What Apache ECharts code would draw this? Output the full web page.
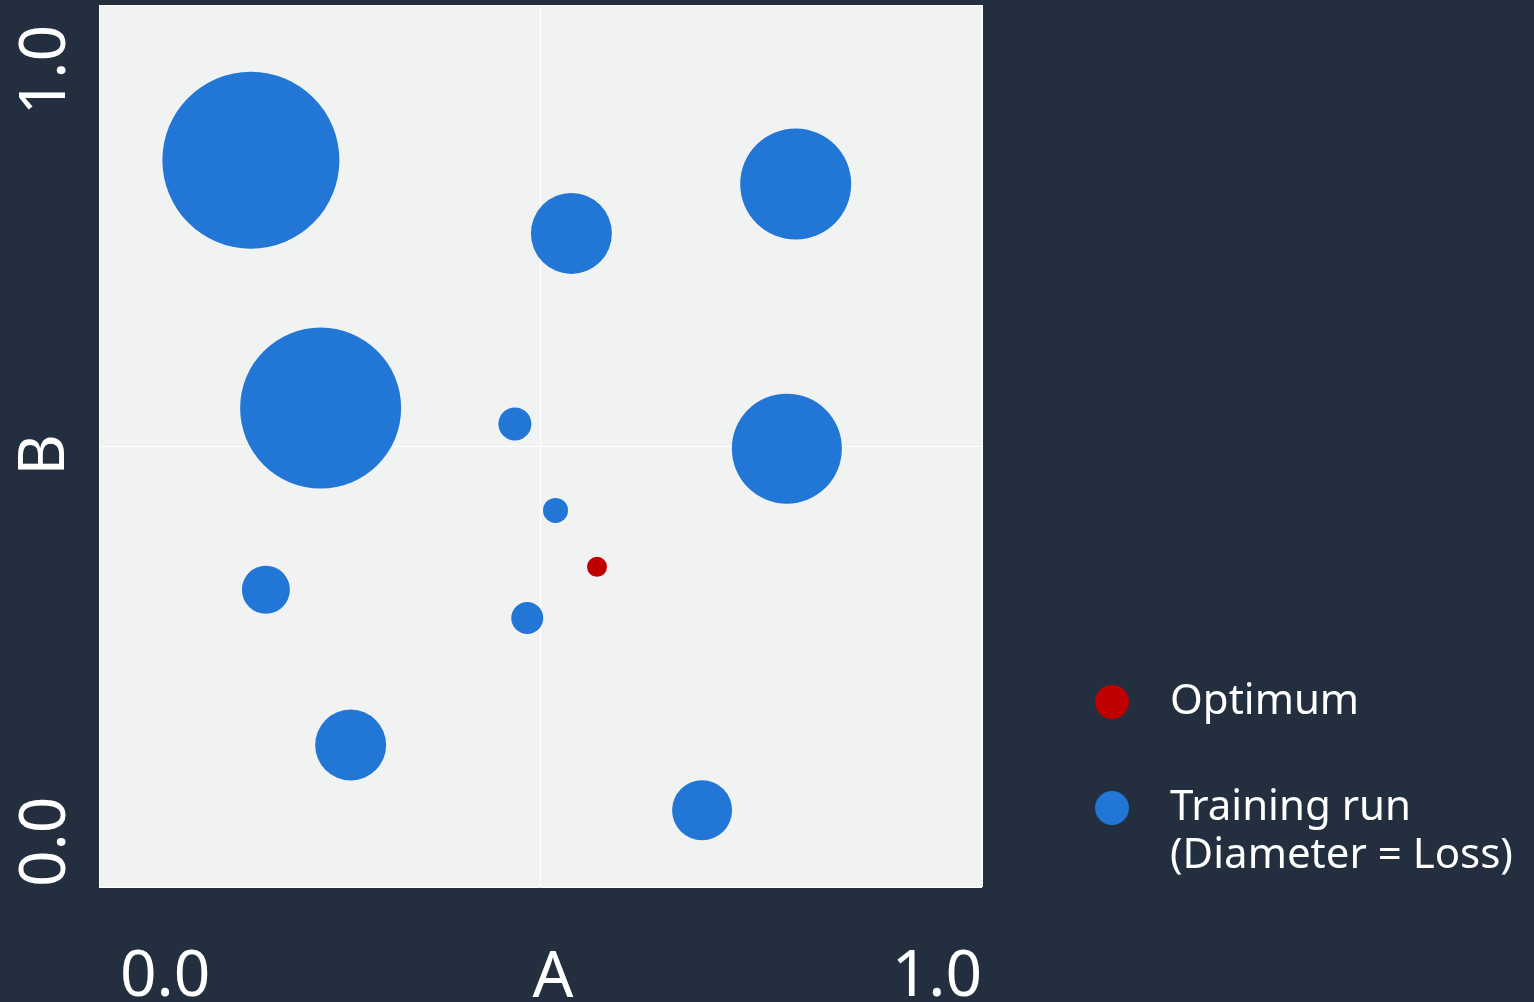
<html>
  <head>
    <meta charset="utf-8">
    <title>Training runs</title>
    <script src="https://cdn.jsdelivr.net/npm/echarts@6/dist/echarts.min.js"></script>
    <style>
      html, body { margin: 0; padding: 0; background: #232F3E; }
      #main { width: 1534px; height: 1002px; }
    </style>
  </head>
  <body>
    <div id="main"></div>
    <script>
      // training runs: parameter A, parameter B, loss (diameter)
      var runA    = [0.172, 0.535, 0.789, 0.251, 0.471, 0.779, 0.517, 0.189, 0.485, 0.285, 0.683];
      var runB    = [0.824, 0.741, 0.797, 0.543, 0.525, 0.497, 0.427, 0.337, 0.305, 0.161, 0.087];
      var runLoss = [1.77, 0.81, 1.11, 1.61, 0.33, 1.10, 0.25, 0.48, 0.32, 0.71, 0.60];
      var optimumA = [0.564];
      var optimumB = [0.363];
      var tickLabels = { 0: '0.0', 1: '1.0' };

      var runData = [];
      for (var i = 0; i < runA.length; i++) {
        runData.push([runA[i], runB[i], runLoss[i]]);
      }
      var optData = [];
      for (var j = 0; j < optimumA.length; j++) {
        optData.push([optimumA[j], optimumB[j]]);
      }

      var font = 'Noto Sans';
      var runName = 'Training run\n(Diameter = Loss)';

      var chart = echarts.init(document.getElementById('main'));
      chart.setOption({
        backgroundColor: '#232F3E',
        animation: false,
        grid: {
          left: 99, top: 5, right: 552, bottom: 115,
          show: true,
          backgroundColor: '#F1F2F2',
          borderWidth: 0,
          outerBoundsMode: 'none'
        },
        xAxis: {
          type: 'value', min: 0, max: 1, interval: 0.5,
          name: 'A', nameLocation: 'middle', nameGap: 60, nameMoveOverlap: false,
          nameTextStyle: { color: '#fff', fontSize: 64, fontFamily: font, padding: [0, 0, 0, 25] },
          axisLine: { show: false }, axisTick: { show: false },
          splitLine: { show: true, lineStyle: { color: '#ffffff', width: 1 } },
          axisLabel: {
            color: '#fff', fontSize: 64, fontFamily: font, margin: 59,
            alignMinLabel: 'left', alignMaxLabel: 'right',
            padding: [0, 0, 0, 21],
            formatter: function (v) { return tickLabels[v] || ''; }
          }
        },
        yAxis: {
          type: 'value', min: 0, max: 1, interval: 0.5,
          name: 'B', nameLocation: 'middle', nameGap: 21, nameRotate: 90, nameMoveOverlap: false,
          nameTextStyle: { color: '#fff', fontSize: 64, fontFamily: font, padding: [0, 18, 0, 0] },
          axisLine: { show: false }, axisTick: { show: false },
          splitLine: { show: true, lineStyle: { color: '#ffffff', width: 1 } },
          axisLabel: {
            color: '#fff', fontSize: 64, fontFamily: font, margin: 20, rotate: 90,
            alignMinLabel: 'left', alignMaxLabel: 'right',
            padding: [0, 20, 0, 0],
            formatter: function (v) { return tickLabels[v] || ''; }
          }
        },
        legend: {
          orient: 'vertical',
          left: 1090, top: 673,
          icon: 'circle',
          itemWidth: 34, itemHeight: 34,
          itemGap: 10,
          textStyle: { color: '#fff', fontSize: 42, fontFamily: font, lineHeight: 48, padding: [0, 0, 0, 36] },
          // a leading blank line keeps the marker level with the first text line
          formatter: function (name) { return name === runName ? '\n' + name : name; },
          data: ['Optimum', runName],
          selectedMode: false
        },
        series: [
          {
            name: 'Optimum',
            type: 'scatter',
            data: optData,
            symbolSize: 20,
            itemStyle: { color: '#C00000', opacity: 1 },
            z: 3
          },
          {
            name: runName,
            type: 'scatter',
            data: runData,
            symbolSize: function (d) { return d[2] * 100; },
            itemStyle: { color: '#2176D6', opacity: 1 },
            z: 2
          }
        ]
      });
    </script>
  </body>
</html>
